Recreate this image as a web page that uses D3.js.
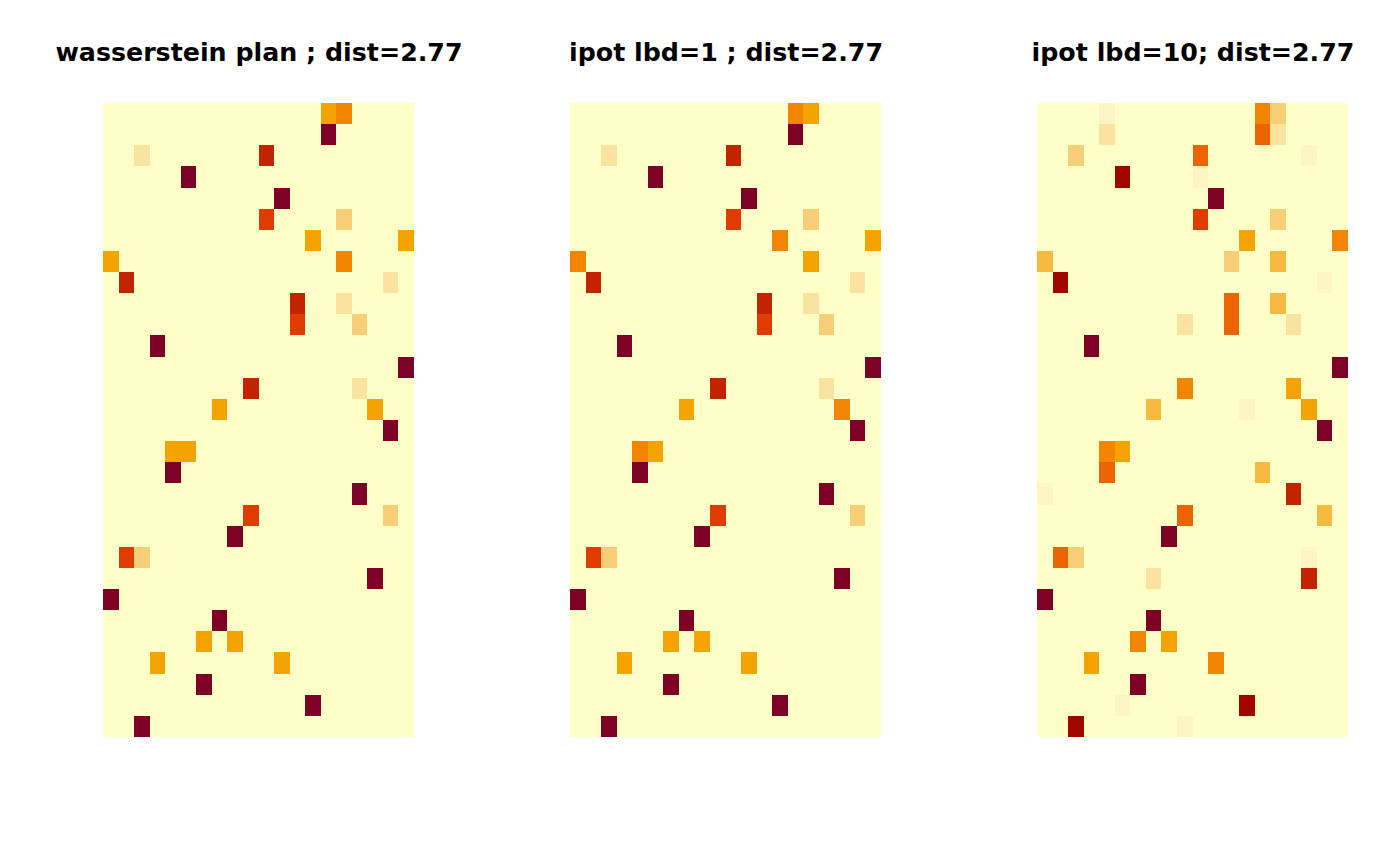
<!DOCTYPE html>
<html>
<head>
<meta charset="utf-8">
<script src="https://cdn.jsdelivr.net/npm/d3@7"></script>
<style>
  html, body { margin: 0; padding: 0; background: #ffffff; }
  svg { display: block; }
</style>
</head>
<body>
<svg id="chart" width="1400" height="866"></svg>
<script>
// ---- data ----
const nRows = 30;
const nCols = 20;
const titles = ["wasserstein plan ; dist=2.77", "ipot lbd=1 ; dist=2.77", "ipot lbd=10; dist=2.77"];
// colour levels (hcl "YlOrRd", reversed, 12 steps)
const palette = ["#FFFFC8","#FEF5C2","#FAE3A0","#F6CF78","#F7BA40","#F5A300","#F28500","#EC6400","#E03C00","#C22400","#A00500","#7D0025"];

// non-zero plan entries: [row, col, value relative to max]
const planWasserstein = [
  [0,14,0.46],[0,15,0.54],[1,14,1.0],[2,2,0.21],[2,10,0.79],[3,5,1.0],[4,11,1.0],
  [5,10,0.70],[5,15,0.30],[6,13,0.46],[6,19,0.46],[7,0,0.46],[7,15,0.54],
  [8,1,0.79],[8,18,0.21],[9,12,0.79],[9,15,0.21],[10,12,0.70],[10,16,0.30],
  [11,3,1.0],[12,19,1.0],[13,9,0.79],[13,16,0.21],[14,7,0.46],[14,17,0.46],
  [15,18,1.0],[16,4,0.46],[16,5,0.46],[17,4,1.0],[18,16,1.0],[19,9,0.70],[19,18,0.30],
  [20,8,1.0],[21,1,0.70],[21,2,0.30],[22,17,1.0],[23,0,1.0],[24,7,1.0],
  [25,6,0.46],[25,8,0.46],[26,3,0.46],[26,11,0.46],[27,6,1.0],[28,13,1.0],[29,2,1.0]
];
const planIpot1 = [
  [0,14,0.54],[0,15,0.46],[1,14,1.0],[2,2,0.21],[2,10,0.79],[3,5,1.0],[4,11,1.0],
  [5,10,0.70],[5,15,0.30],[6,13,0.54],[6,19,0.46],[7,0,0.54],[7,15,0.46],
  [8,1,0.79],[8,18,0.21],[9,12,0.79],[9,15,0.21],[10,12,0.70],[10,16,0.30],
  [11,3,1.0],[12,19,1.0],[13,9,0.79],[13,16,0.21],[14,7,0.46],[14,17,0.54],
  [15,18,1.0],[16,4,0.54],[16,5,0.46],[17,4,1.0],[18,16,1.0],[19,9,0.70],[19,18,0.30],
  [20,8,1.0],[21,1,0.70],[21,2,0.30],[22,17,1.0],[23,0,1.0],[24,7,1.0],
  [25,6,0.46],[25,8,0.46],[26,3,0.46],[26,11,0.46],[27,6,1.0],[28,13,1.0],[29,2,1.0]
];
const planIpot10 = [
  [0,4,0.12],[0,14,0.54],[0,15,0.30],[1,4,0.21],[1,14,0.62],[1,15,0.21],
  [2,2,0.30],[2,10,0.62],[2,17,0.12],[3,5,0.88],[3,10,0.12],[4,11,1.0],
  [5,10,0.70],[5,15,0.30],[6,13,0.46],[6,19,0.54],[7,0,0.38],[7,12,0.30],[7,15,0.38],
  [8,1,0.88],[8,18,0.12],[9,12,0.62],[9,15,0.38],[10,9,0.21],[10,12,0.62],[10,16,0.21],
  [11,3,1.0],[12,19,1.0],[13,9,0.54],[13,16,0.46],[14,7,0.38],[14,13,0.12],[14,17,0.46],
  [15,18,1.0],[16,4,0.54],[16,5,0.46],[17,4,0.62],[17,14,0.38],[18,0,0.12],[18,16,0.79],
  [19,9,0.62],[19,18,0.38],[20,8,1.0],[21,1,0.62],[21,2,0.30],[21,17,0.12],
  [22,7,0.21],[22,17,0.79],[23,0,1.0],[24,7,1.0],[25,6,0.54],[25,8,0.46],
  [26,3,0.46],[26,11,0.54],[27,6,1.0],[28,5,0.12],[28,13,0.88],[29,2,0.88],[29,9,0.12]
];
const plans = [planWasserstein, planIpot1, planIpot10];

// ---- layout ----
const svg = d3.select("#chart");
const panelLefts = [103, 570, 1037];
const panelW = 311;
const plotTop = 103, panelH = 634;

const color = d3.scaleQuantize().domain([0, 1]).range(palette);

plans.forEach((plan, p) => {
  const x = d3.scaleBand().domain(d3.range(nCols)).range([panelLefts[p], panelLefts[p] + panelW]);
  const y = d3.scaleBand().domain(d3.range(nRows)).range([plotTop, plotTop + panelH]);
  const grid = [];
  for (let r = 0; r < nRows; r++) for (let c = 0; c < nCols; c++) grid.push({r, c, v: 0});
  plan.forEach(([r, c, v]) => { grid[r * nCols + c].v = v; });
  const g = svg.append("g");
  g.selectAll("rect").data(grid).enter().append("rect")
    .attr("x", d => x(d.c))
    .attr("y", d => y(d.r))
    .attr("width", x.bandwidth() + 0.4)
    .attr("height", y.bandwidth() + 0.4)
    .attr("fill", d => color(d.v))
    .attr("shape-rendering", "crispEdges");
  svg.append("text")
    .attr("x", panelLefts[p] + panelW / 2 + 0.5)
    .attr("y", 61)
    .attr("text-anchor", "middle")
    .attr("font-family", "DejaVu Sans")
    .attr("font-weight", "bold")
    .attr("font-size", 25.3)
    .attr("fill", "#000")
    .text(titles[p]);
});
</script>
</body>
</html>
